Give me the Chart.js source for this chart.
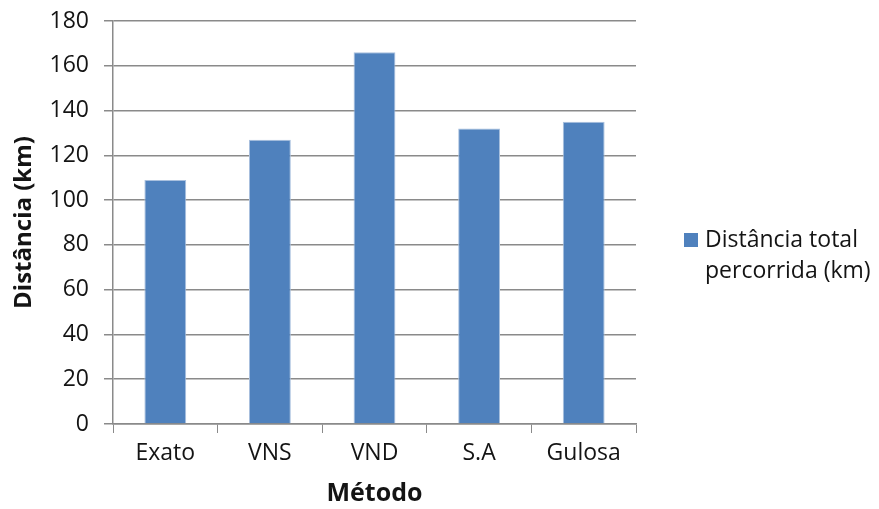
<!DOCTYPE html>
<html>
<head>
<meta charset="utf-8">
<script src="https://cdn.jsdelivr.net/npm/chart.js@4/dist/chart.umd.min.js"></script>
<style>
  html, body { margin: 0; padding: 0; background: #fff; }
  #wrap { width: 879px; height: 509px; }
</style>
</head>
<body>
<div id="wrap"><canvas id="myGraph" width="879" height="509"></canvas></div>
<script>
// data
const methods = ["Exato", "VNS", "VND", "S.A", "Gulosa"];
const distances = [109, 127, 166, 132, 135];
const seriesName = ["Distância total", "percorrida (km)"];
const yTitle = "Distância (km)";
const xTitle = "Método";

const barColor = "#4f81bd";
const axisColor = "#8a8a8a";
const textColor = "#141414";
const fontName = "'Open Sans', 'Liberation Sans', sans-serif";

// legend drawn on the right, two lines like the original
const sideLegend = {
    id: "sideLegend",
    afterDraw(chart) {
        const c = chart.ctx;
        const ds = chart.data.datasets[0];
        const x = chart.chartArea.right + 48;
        const y = 240;
        c.save();
        c.fillStyle = ds.backgroundColor;
        c.fillRect(x, y - 7, 14, 14);
        c.fillStyle = textColor;
        c.font = "23px " + fontName;
        c.textBaseline = "middle";
        const lines = ds.label;
        for (let i = 0; i < lines.length; i++) {
            c.fillText(lines[i], x + 21, y + i * 31);
        }
        c.restore();
    }
};

const ctx = document.getElementById("myGraph");
let myChart = new Chart(ctx, {
    type: "bar",
    data: {
        labels: methods,
        datasets: [{
            label: seriesName,
            data: distances,
            backgroundColor: barColor,
            borderColor: "#a9c0de",
            borderWidth: 1,
            barPercentage: 0.4,
            categoryPercentage: 1
        }]
    },
    options: {
        responsive: false,
        animation: false,
        layout: { padding: { top: 21, right: 243, left: 0, bottom: 0 } },
        plugins: {
            legend: { display: false },
            tooltip: { enabled: false }
        },
        scales: {
            x: {
                afterFit(scale) { scale.height = 85; },
                grid: {
                    drawOnChartArea: false,
                    color: axisColor,
                    tickLength: 9,
                    offset: true
                },
                border: { color: axisColor, width: 1.5 },
                ticks: { color: textColor, font: { family: fontName, size: 23 }, padding: 7 },
                title: {
                    display: true,
                    text: xTitle,
                    color: textColor,
                    font: { family: fontName, size: 25, weight: "bold" },
                    padding: { top: 0, bottom: 0 }
                }
            },
            y: {
                afterFit(scale) { scale.width = 113; },
                min: 0,
                max: 180,
                ticks: { stepSize: 20, color: textColor, font: { family: fontName, size: 23, lineHeight: 0.5 }, padding: 15 },
                grid: { color: axisColor, lineWidth: 1.5, tickLength: 9 },
                border: { color: axisColor, width: 1.5 },
                title: {
                    display: true,
                    text: yTitle,
                    color: textColor,
                    font: { family: fontName, size: 24, weight: "bold" },
                    padding: { top: 10, bottom: 0 }
                }
            }
        }
    },
    plugins: [sideLegend]
});
</script>
</body>
</html>
